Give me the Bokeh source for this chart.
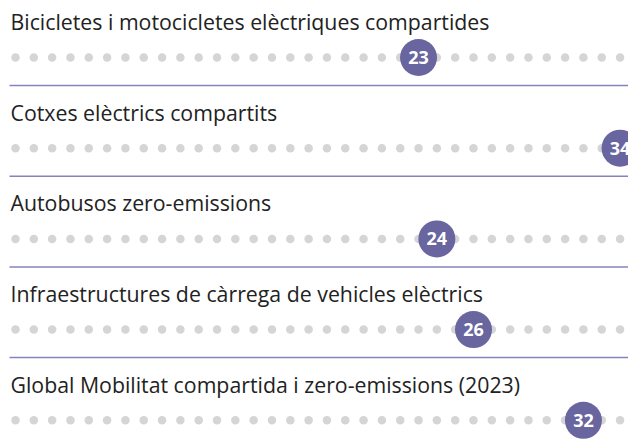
from bokeh.plotting import figure
from bokeh.models import Range1d, ColumnDataSource
from bokeh.core.properties import value
from bokeh.embed import file_html
from bokeh.resources import INLINE

categories = [
    "Bicicletes i motocicletes elèctriques compartides",
    "Cotxes elèctrics compartits",
    "Autobusos zero-emissions",
    "Infraestructures de càrrega de vehicles elèctrics",
    "Global Mobilitat compartida i zero-emissions (2023)",
]
values = [23, 34, 24, 26, 32]
scale_max = 34

rows = list(range(len(categories)))

# layout (pixels -> data units)
W, H = 628, 441
step_px = 18.32
row_px = 90.7
x_start = 1 - 15 / step_px
x_end = x_start + W / step_px
y_top = -57 / row_px
y_bottom = y_top + H / row_px

p = figure(width=W, height=H, output_backend="svg", toolbar_location=None,
           x_range=Range1d(x_start, x_end), y_range=Range1d(y_bottom, y_top),
           min_border=0)
p.axis.visible = False
p.grid.visible = False
p.outline_line_color = None
p.background_fill_color = "white"
p.border_fill_color = "white"

# separators
sep_rows = rows[:-1]
p.segment(x0=[x_start + 9 / step_px] * len(sep_rows), x1=[x_end] * len(sep_rows),
          y0=[r + 28 / row_px for r in sep_rows], y1=[r + 28 / row_px for r in sep_rows],
          line_color="#8582bd", line_width=1.5)

# grey dots
dx, dy = [], []
for r in rows:
    for i in range(1, scale_max + 1):
        dx.append(i)
        dy.append(r)
p.scatter(dx, dy, size=8.5, fill_color="#d5d5d7", line_color=None)

# value markers
src = ColumnDataSource(dict(x=values, y=rows, label=[str(v) for v in values]))
p.scatter("x", "y", source=src, size=37, fill_color="#69659f", line_color=None)
p.text("x", "y", text="label", source=src, text_align="center", text_baseline="middle",
       text_font=value("Open Sans"), text_font_style="bold", text_font_size="18px",
       text_color="white")

# titles
tsrc = ColumnDataSource(dict(x=[x_start + 10 / step_px] * len(rows),
                             y=[r - 36 / row_px for r in rows], t=categories))
p.text("x", "y", text="t", source=tsrc, text_align="left", text_baseline="alphabetic",
       text_font=value("Open Sans"), text_font_size="21.3px", text_color="#222222")

open("out.html", "w").write(file_html(p, INLINE))
